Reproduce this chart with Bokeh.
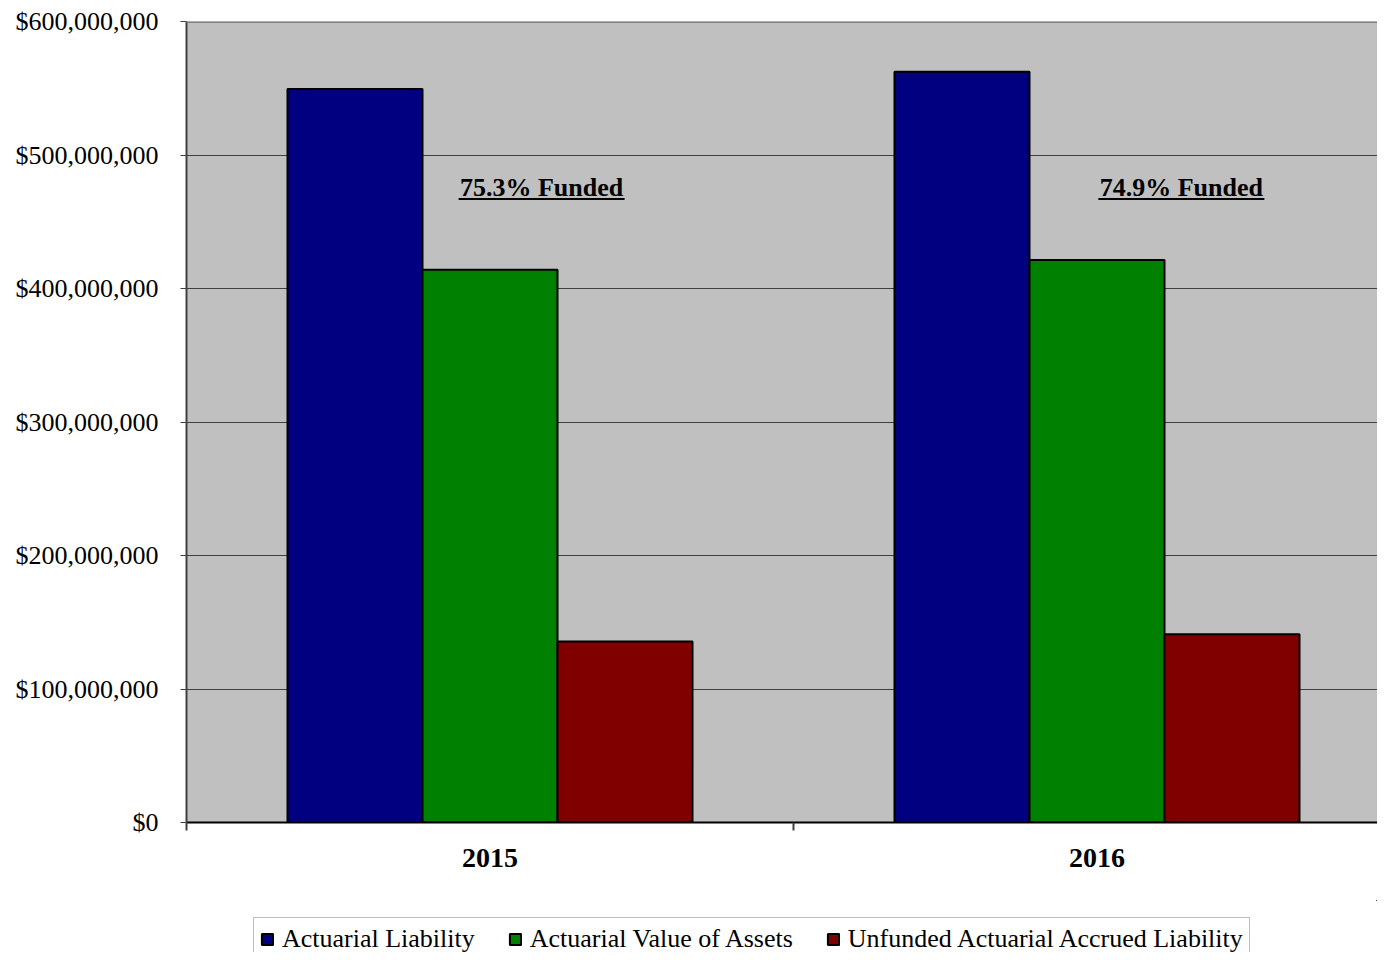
from bokeh.plotting import figure
from bokeh.layouts import column
from bokeh.models import Range1d, FixedTicker, NumeralTickFormatter, Legend, LegendItem, Span, ColumnDataSource
from bokeh.core.properties import value
from bokeh.embed import file_html
from bokeh.resources import INLINE

years = ["2015", "2016"]
series = ["Actuarial Liability", "Actuarial Value of Assets", "Unfunded Actuarial Accrued Liability"]
actuarial_liability = [549_500_000, 562_300_000]
actuarial_assets = [414_000_000, 421_300_000]
unfunded = [135_500_000, 141_000_000]
funded_labels = ["75.3% Funded", "74.9% Funded"]
funded_label_offset = [0.085, 0.139]   # offset from category centre (category units)
funded_label_y = 476_000_000
colors = ["#000080", "#008000", "#800000"]
y_ticks = [0, 100_000_000, 200_000_000, 300_000_000, 400_000_000, 500_000_000, 600_000_000]

FONT = "Liberation Serif"
cat_px = 607.0          # pixel width of one category slot
bar_w = 0.2224          # bar width in category units

W, H = 1377, 900
left, top, bottom = 186, 21, 78
frame_w = W - left

p = figure(width=W, height=H, output_backend="svg", toolbar_location=None,
           x_range=Range1d(0, frame_w / cat_px), y_range=Range1d(0, y_ticks[-1]),
           min_border_left=left, min_border_top=top, min_border_bottom=bottom, min_border_right=0)
p.background_fill_color = "#C0C0C0"
p.border_fill_color = "white"
p.outline_line_color = None

sources = []
for j, vals in enumerate([actuarial_liability, actuarial_assets, unfunded]):
    xs = [i + 0.5 + (j - 1) * bar_w for i in range(len(years))]
    src = ColumnDataSource(dict(x=xs, top=vals))
    sources.append(src)
    p.vbar(x="x", top="top", width=bar_w, bottom=0, source=src,
           fill_color=colors[j], line_color="black", line_width=2)

# funded annotations
tx = [i + 0.5 + o for i, o in enumerate(funded_label_offset)]
p.text(x=tx, y=[funded_label_y] * 2, text=funded_labels, text_font=value(FONT),
       text_font_size="26px", text_font_style="bold", text_align="center",
       text_baseline="middle", text_color="black")
half = 83 / cat_px
ul = funded_label_y - 9_000_000
p.segment(x0=[x - half for x in tx], x1=[x + half for x in tx], y0=[ul] * 2, y1=[ul] * 2,
          line_color="black", line_width=2)

# top border line
p.add_layout(Span(location=y_ticks[-1], dimension="width", line_color="#808080", line_width=3))

# grid
p.xgrid.grid_line_color = None
p.ygrid.ticker = FixedTicker(ticks=y_ticks)
p.ygrid.grid_line_color = "#404040"
p.ygrid.grid_line_width = 1

# y axis
p.yaxis.ticker = FixedTicker(ticks=y_ticks)
p.yaxis.formatter = NumeralTickFormatter(format="$0,0")
p.yaxis.major_label_text_font = FONT
p.yaxis.major_label_text_font_size = "26px"
p.yaxis.major_label_text_color = "black"
p.yaxis.major_tick_out = 6
p.yaxis.major_tick_in = 0
p.yaxis.minor_tick_line_color = None
p.yaxis.axis_line_color = "#404040"
p.yaxis.axis_line_width = 2
p.yaxis.major_tick_line_color = "#404040"
p.yaxis.major_label_standoff = 22

# x axis
p.xaxis.ticker = FixedTicker(ticks=[i + 0.5 for i in range(len(years))],
                             minor_ticks=list(range(len(years) + 1)))
p.xaxis.major_label_overrides = {i + 0.5: y for i, y in enumerate(years)}
p.xaxis.major_tick_line_color = None
p.xaxis.minor_tick_line_color = "#404040"
p.xaxis.minor_tick_out = 8
p.xaxis.minor_tick_in = 0
p.xaxis.minor_tick_line_width = 2
p.xaxis.axis_line_color = "black"
p.xaxis.axis_line_width = 2
p.xaxis.major_label_text_font = FONT
p.xaxis.major_label_text_font_size = "28px"
p.xaxis.major_label_text_font_style = "bold"
p.xaxis.major_label_text_color = "black"
p.xaxis.major_label_standoff = 18

# legend strip below the chart (same series renderers, kept out of its view)
LH = 52
lf = figure(width=W, height=LH, output_backend="svg", toolbar_location=None,
            x_axis_type=None, y_axis_type=None,
            x_range=Range1d(-30, -20), y_range=Range1d(-2 * y_ticks[-1], -y_ticks[-1]),
            min_border_left=left, min_border_right=0, min_border_top=0, min_border_bottom=0)
lf.outline_line_color = None
lf.background_fill_color = "white"
lf.border_fill_color = "white"
lf.xgrid.grid_line_color = None
lf.ygrid.grid_line_color = None
items = []
for j, s in enumerate(series):
    r = lf.vbar(x="x", top="top", width=bar_w, bottom=0, source=sources[j],
                fill_color=colors[j], line_color="black", line_width=2)
    items.append(LegendItem(label=s, renderers=[r]))
legend = Legend(items=items, orientation="horizontal", location=(67, -9), margin=0,
                label_text_font=FONT, label_text_font_size="26px", label_text_color="black",
                glyph_width=14, glyph_height=14, label_standoff=8, spacing=33, padding=6,
                label_height=30,
                border_line_color="#808080", border_line_width=1,
                background_fill_color="white", background_fill_alpha=1.0)
lf.add_layout(legend, "center")

layout = column(p, lf, spacing=0)
open("out.html", "w").write(file_html(layout, INLINE))
